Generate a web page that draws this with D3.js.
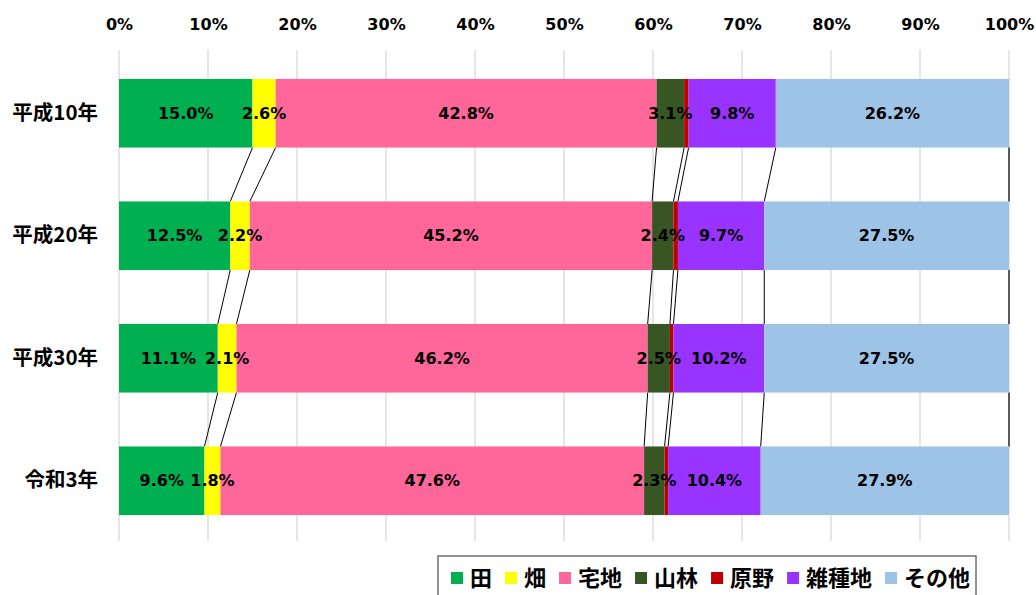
<!DOCTYPE html>
<html>
<head>
<meta charset="utf-8">
<script src="https://cdn.jsdelivr.net/npm/d3@7"></script>
<style>
  body { margin: 0; background: #fff; }
  svg { display: block; }
  text { font-weight: bold; fill: #000; }
</style>
</head>
<body>
<div id="chart"></div>
<script>
// categories (top to bottom)
const years = ["平成10年", "平成20年", "平成30年", "令和3年"];
const seriesNames = ["田", "畑", "宅地", "山林", "原野", "雑種地", "その他"];

// share of land area (%) per series, one value per year
const ta = [15.0, 12.5, 11.1, 9.6];
const hatake = [2.6, 2.2, 2.1, 1.8];
const takuchi = [42.8, 45.2, 46.2, 47.6];
const sanrin = [3.1, 2.4, 2.5, 2.3];
const genya = [0.5, 0.5, 0.4, 0.4];
const zasshuchi = [9.8, 9.7, 10.2, 10.4];
const sonota = [26.2, 27.5, 27.5, 27.9];

const xTicks = [0, 10, 20, 30, 40, 50, 60, 70, 80, 90, 100];
const colors = ["#00b050", "#ffff00", "#ff6699", "#375623", "#c00000", "#9933ff", "#9dc3e6"];
const showLabel = [true, true, true, true, false, true, true];

const numFont = "'DejaVu Sans', sans-serif";
const jpFont = "'Noto Sans CJK JP', sans-serif";

const width = 1036, height = 595;
const margin = { top: 50, right: 27, bottom: 50, left: 119 };
const innerWidth = width - margin.left - margin.right;
const innerHeight = height - margin.top - margin.bottom;

const values = [ta, hatake, takuchi, sanrin, genya, zasshuchi, sonota];
const rows = years.map((y, i) => {
  let acc = 0;
  const segs = values.map((s, k) => {
    const seg = { key: seriesNames[k], k, x0: acc, x1: acc + s[i], v: s[i] };
    acc += s[i];
    return seg;
  });
  // normalise to 100%
  segs.forEach(d => { d.x0 = d.x0 / acc * 100; d.x1 = d.x1 / acc * 100; });
  return { year: y, segs };
});

const svg = d3.select("#chart").append("svg").attr("width", width).attr("height", height);
const g = svg.append("g").attr("transform", `translate(${margin.left},${margin.top})`);

const x = d3.scaleLinear().domain([0, 100]).range([0, innerWidth]);
const y = d3.scaleBand().domain(years).range([2, 492]).paddingInner(0.44).paddingOuter(0.22);

// gridlines
g.selectAll(".grid").data(xTicks).enter().append("line")
  .attr("x1", d => x(d)).attr("x2", d => x(d))
  .attr("y1", 0).attr("y2", innerHeight - 4)
  .attr("stroke", "#d9d9d9").attr("stroke-width", 1.3);

// top axis labels
const xAxis = d3.axisTop(x).tickValues(xTicks).tickFormat(d => d + "%").tickSize(0).tickPadding(20);
const xAxisG = g.append("g").call(xAxis);
xAxisG.select(".domain").remove();
xAxisG.selectAll("text").style("font-family", numFont).style("font-size", "16px");

// category labels
const yAxis = d3.axisLeft(y).tickSize(0).tickPadding(21);
const yAxisG = g.append("g").call(yAxis);
yAxisG.select(".domain").remove();
yAxisG.selectAll("text").style("font-family", jpFont).style("font-size", "20.5px");

// series (connector) lines between bars
for (let i = 0; i < rows.length - 1; i++) {
  const a = rows[i], b = rows[i + 1];
  a.segs.forEach((s, k) => {
    g.append("line")
      .attr("x1", x(s.x1)).attr("y1", y(a.year) + y.bandwidth())
      .attr("x2", x(b.segs[k].x1)).attr("y2", y(b.year))
      .attr("stroke", k === a.segs.length - 1 ? "#595959" : "#000")
      .attr("stroke-width", k === a.segs.length - 1 ? 2 : 1);
  });
}

// bars
const bar = g.selectAll(".bar").data(rows).enter().append("g")
  .attr("transform", d => `translate(0,${y(d.year)})`);

bar.selectAll("rect").data(d => d.segs).enter().append("rect")
  .attr("x", d => x(d.x0))
  .attr("width", d => x(d.x1) - x(d.x0))
  .attr("height", y.bandwidth())
  .attr("fill", d => colors[d.k]);

bar.selectAll(".lbl").data(d => d.segs.filter(s => showLabel[s.k])).enter().append("text")
  .attr("x", d => x((d.x0 + d.x1) / 2))
  .attr("y", y.bandwidth() / 2)
  .attr("dy", "0.36em")
  .attr("text-anchor", "middle")
  .style("font-family", numFont)
  .style("font-size", "16px")
  .text(d => d.v.toFixed(1) + "%");

// legend
const legend = svg.append("g").attr("transform", "translate(438,556)");
legend.append("rect").attr("x", 0).attr("y", 0).attr("width", 538).attr("height", 45)
  .attr("fill", "#fff").attr("stroke", "#595959").attr("stroke-width", 1.3);
let lx = 13;
seriesNames.forEach((name, k) => {
  legend.append("rect").attr("x", lx).attr("y", 16).attr("width", 12).attr("height", 12).attr("fill", colors[k]);
  const t = legend.append("text").attr("x", lx + 19).attr("y", 22).attr("dy", "0.36em")
    .style("font-family", jpFont).style("font-size", "22px").text(name);
  lx += 19 + t.node().getComputedTextLength() + 13;
});
</script>
</body>
</html>
